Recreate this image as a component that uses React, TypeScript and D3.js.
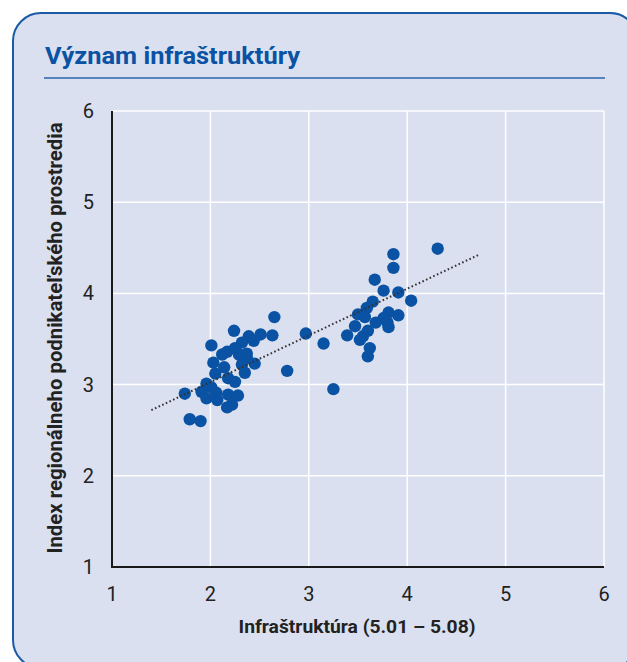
import React from 'react';
import * as d3 from 'd3';

// infrastructure score (x) vs regional business environment index (y)
const infra = [
  2.65, 2.24, 2.39, 2.51, 2.63, 2.97, 2.01, 2.32, 2.44, 2.12, 2.17, 2.25, 2.29,
  2.37, 2.37, 2.03, 2.14, 2.32, 2.45, 2.05, 2.18, 2.25, 2.35, 2.78, 1.96, 2.01,
  1.74, 1.91, 2.06, 2.18, 2.28, 1.96, 2.07, 2.22, 2.17, 1.79, 1.9,
  3.15, 3.25,
  4.31, 3.86, 3.86, 3.67, 3.76, 3.91, 4.04, 3.65, 3.59, 3.5, 3.57, 3.81, 3.76,
  3.91, 3.68, 3.8, 3.81, 3.47, 3.6, 3.39, 3.55, 3.52, 3.62, 3.6,
];
const index = [
  3.74, 3.59, 3.53, 3.55, 3.54, 3.56, 3.43, 3.46, 3.48, 3.33, 3.36, 3.4, 3.33,
  3.34, 3.29, 3.24, 3.19, 3.22, 3.23, 3.12, 3.07, 3.03, 3.13, 3.15, 3.01, 2.97,
  2.9, 2.92, 2.91, 2.89, 2.88, 2.85, 2.83, 2.78, 2.75, 2.62, 2.6,
  3.45, 2.95,
  4.49, 4.43, 4.28, 4.15, 4.03, 4.01, 3.92, 3.91, 3.84, 3.77, 3.74, 3.79, 3.73,
  3.76, 3.68, 3.68, 3.63, 3.64, 3.59, 3.54, 3.53, 3.49, 3.4, 3.31,
];
const ticks = [1, 2, 3, 4, 5, 6];
// linear trend line as drawn in the source (end points)
const trendX = [1.4, 4.74];
const trendY = [2.72, 4.43];

const title = 'Význam infraštruktúry';
const xTitle = 'Infraštruktúra (5.01 – 5.08)';
const yTitle = 'Index regionálneho podnikateľského prostredia';

const font = 'Roboto, "Liberation Sans", sans-serif';
const blue = '#0a52a3';

const App = () => {
  const x = d3.scaleLinear().domain([1, 6]).range([112, 604]);
  const y = d3.scaleLinear().domain([1, 6]).range([567, 111]);

  const line = d3.line<number>().x(d => x(d)).y((d, i) => y(trendY[i]));

  return (
    <svg width={627} height={662} style={{ position: 'absolute', left: 0, top: 0, fontFamily: font }}>
      <rect x={13} y={13} width={625} height={655} rx={28} fill="#dae0ef" stroke="#1a5ba6" strokeWidth={2} />
      <text x={45} y={64} fontSize={24} fontWeight="bold" fill={blue} textLength={255} lengthAdjust="spacingAndGlyphs">{title}</text>
      <line x1={44} x2={605} y1={78} y2={78} stroke="#2a64ad" strokeWidth={1.5} />

      {ticks.map(t => (
        <g key={'g' + t}>
          <line x1={x(t)} x2={x(t)} y1={y(6)} y2={y(1)} stroke="#fff" strokeWidth={1.5} />
          <line x1={x(1)} x2={x(6)} y1={y(t)} y2={y(t)} stroke="#fff" strokeWidth={1.5} />
        </g>
      ))}
      <line x1={x(1)} x2={x(1)} y1={y(6)} y2={y(1)} stroke="#1a1a1a" strokeWidth={2} />
      <line x1={x(1) - 1} x2={x(6)} y1={y(1)} y2={y(1)} stroke="#1a1a1a" strokeWidth={2} />

      {ticks.map(t => (
        <text key={'x' + t} x={x(t)} y={601} fontSize={20} textAnchor="middle" fill="#222">{t}</text>
      ))}
      {ticks.map(t => (
        <text key={'y' + t} x={94} y={y(t) + 7} fontSize={20} textAnchor="end" fill="#222">{t}</text>
      ))}

      {infra.map((v, i) => (
        <circle key={i} cx={x(v)} cy={y(index[i])} r={6.2} fill={blue} />
      ))}
      <path d={line(trendX) || ''} fill="none" stroke="#333" strokeWidth={2} strokeDasharray="1.6,2.4" />

      <text x={357} y={633} fontSize={19} fontWeight="bold" textAnchor="middle" fill="#222" textLength={237} lengthAdjust="spacingAndGlyphs">{xTitle}</text>
      <text transform={`translate(62,338) rotate(-90)`} fontSize={19.5} fontWeight="bold" textAnchor="middle" fill="#222" textLength={431} lengthAdjust="spacingAndGlyphs">{yTitle}</text>
    </svg>
  );
};

export default App;
